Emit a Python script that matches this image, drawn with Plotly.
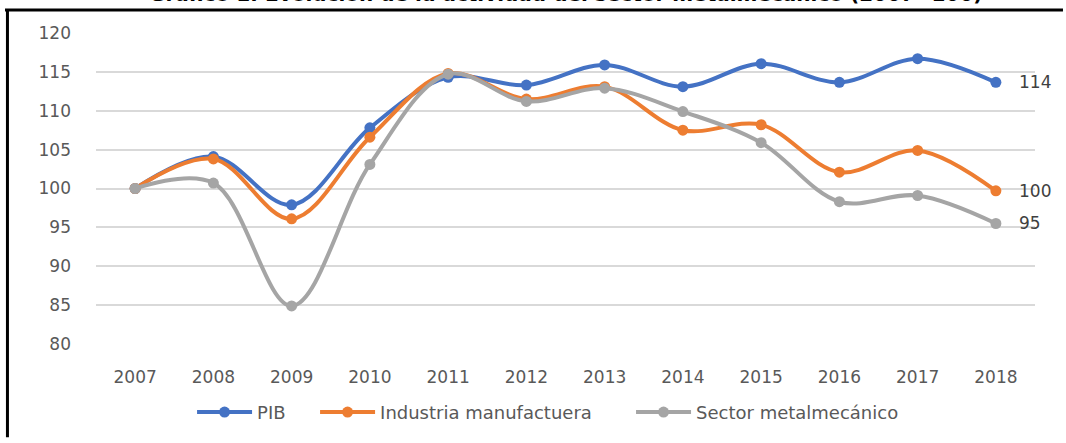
import plotly.graph_objects as go

years = ["2007", "2008", "2009", "2010", "2011", "2012", "2013", "2014", "2015", "2016", "2017", "2018"]
pib = [100, 104.1, 97.9, 107.8, 114.3, 113.3, 115.9, 113.1, 116.05, 113.65, 116.7, 113.65]
industria = [100, 103.8, 96.1, 106.6, 114.8, 111.5, 113.1, 107.5, 108.2, 102.1, 104.9, 99.7]
metal = [100, 100.7, 84.9, 103.1, 114.7, 111.2, 112.9, 109.9, 105.9, 98.3, 99.1, 95.5]
series_names = ["PIB", "Industria manufactuera", "Sector metalmecánico"]
end_labels = ["114", "100", "95"]
colors = ["#4472C4", "#ED7D31", "#A5A5A5"]
title_text = "Gráfico 1: Evolución de la actividad del sector metalmecánico (2007=100)"

FONT = "DejaVu Sans"
legend_ids = ["legend", "legend2", "legend3"]
legend_x = [0.1023, 0.2333, 0.5698]

fig = go.Figure()
for name, vals, col, lid in zip(series_names, [pib, industria, metal], colors, legend_ids):
    fig.add_trace(go.Scatter(
        x=years, y=vals, name=name, mode="lines+markers",
        line=dict(color=col, width=4, shape="spline", smoothing=1.0),
        marker=dict(color=col, size=11),
        hoverinfo="skip", legend=lid, showlegend=True,
    ))

annotations = []
for vals, lab in zip([pib, industria, metal], end_labels):
    annotations.append(dict(
        x=len(years) - 1, y=vals[-1], text=lab, showarrow=False,
        xanchor="left", yanchor="middle", xshift=21,
        font=dict(family=FONT, size=17, color="#404040"),
    ))
annotations.append(dict(
    x=0.5, y=1.0815, xref="paper", yref="paper", text="<b>" + title_text + "</b>",
    showarrow=False, xanchor="center", yanchor="bottom",
    font=dict(family=FONT, size=20, color="#000000"),
))

leg_common = dict(orientation="h", xanchor="left", y=-0.22, yanchor="middle",
                  font=dict(family=FONT, size=18, color="#595959"), itemwidth=55,
                  bgcolor="rgba(0,0,0,0)", borderwidth=0)
layout_legends = {lid: dict(leg_common, x=lx) for lid, lx in zip(legend_ids, legend_x)}

fig.update_layout(
    width=1066, height=443,
    margin=dict(l=96, r=31, t=33, b=93),
    paper_bgcolor="white", plot_bgcolor="white",
    showlegend=True,
    font=dict(family=FONT, size=17, color="#595959"),
    xaxis=dict(type="category", range=[-0.5, len(years) - 0.5], showgrid=False, showline=False,
               zeroline=False, ticks="", ticklabelstandoff=21,
               tickfont=dict(family=FONT, size=17, color="#595959")),
    yaxis=dict(range=[80, 120], dtick=5, showgrid=True, gridcolor="#D9D9D9", gridwidth=1.5,
               zeroline=False, showline=False, ticks="", ticklabelstandoff=24,
               tickfont=dict(family=FONT, size=17, color="#595959")),
    annotations=annotations,
    shapes=[
        dict(type="line", xref="paper", yref="paper", x0=-0.0969, x1=1.0298, y0=1.0741, y1=1.0741,
             line=dict(color="black", width=3)),
        dict(type="line", xref="paper", yref="paper", x0=-0.0943, x1=-0.0943, y0=1.0741, y1=-0.3,
             line=dict(color="black", width=3)),
    ],
    **layout_legends,
)
fig.write_html("out.html", config={"displayModeBar": False},
               post_script="document.body.style.margin='0';document.body.style.overflow='hidden';")
